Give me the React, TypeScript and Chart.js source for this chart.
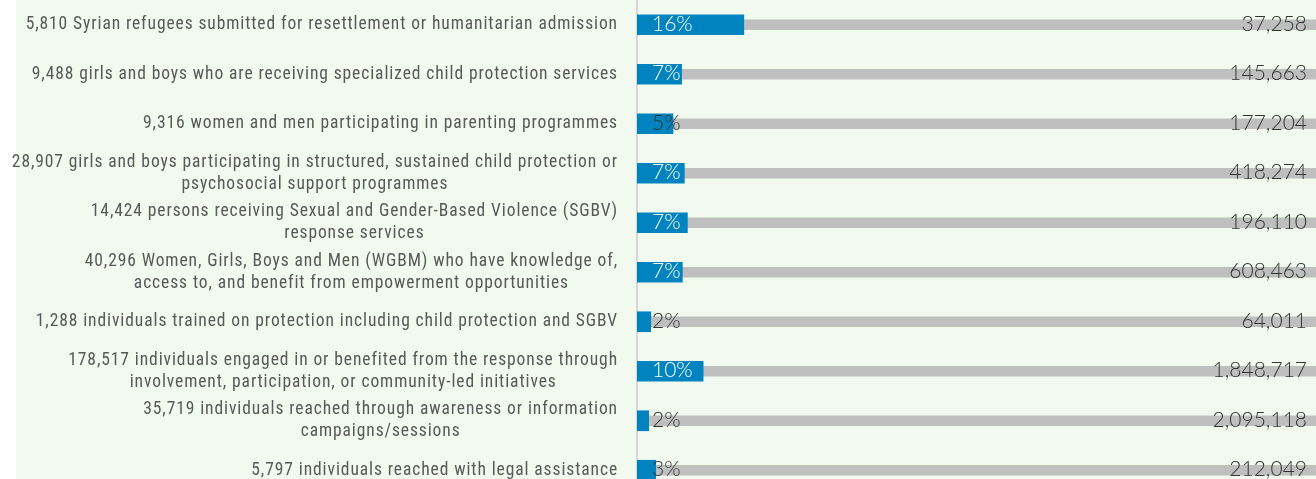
import React, { useEffect, useRef } from "react";
import { Chart, registerables } from "chart.js";

Chart.register(...registerables);

const categories: string[][] = [
  ["5,810 Syrian refugees submitted for resettlement or humanitarian admission"],
  ["9,488 girls and boys who are receiving specialized child protection services"],
  ["9,316 women and men participating in parenting programmes"],
  ["28,907 girls and boys participating in structured, sustained child protection or", "psychosocial support programmes"],
  ["14,424 persons receiving Sexual and Gender-Based Violence (SGBV)", "response services"],
  ["40,296 Women, Girls, Boys and Men (WGBM) who have knowledge of,", "access to, and benefit from empowerment opportunities"],
  ["1,288 individuals trained on protection including child protection and SGBV"],
  ["178,517 individuals engaged in or benefited from the response through", "involvement, participation, or community-led initiatives"],
  ["35,719 individuals reached through awareness or information", "campaigns/sessions"],
  ["5,797 individuals reached with legal assistance"],
];

const achieved: number[] = [5810, 9488, 9316, 28907, 14424, 40296, 1288, 178517, 35719, 5797];
const targets: number[] = [37258, 145663, 177204, 418274, 196110, 608463, 64011, 1848717, 2095118, 212049];
const targetShare: number[] = [100, 100, 100, 100, 100, 100, 100, 100, 100, 100];

const percentAchieved = achieved.map((a, i) => (a / targets[i]) * 100);

const LABEL_FONT = '400 17.5px "Roboto Condensed", "Liberation Sans Narrow", "Arial Narrow", sans-serif';
const NUM_FONT = '300 21px Lato, "Open Sans", sans-serif';

const labelPlugin = {
  id: "customLabels",
  afterDatasetsDraw(chart: any) {
    const ctx = chart.ctx as CanvasRenderingContext2D;
    const yScale = chart.scales.y;
    const area = chart.chartArea;
    const blueMeta = chart.getDatasetMeta(0);
    ctx.save();
    categories.forEach((lines, i) => {
      const cy = yScale.getPixelForValue(i);
      ctx.font = LABEL_FONT;
      (ctx as any).letterSpacing = "0.9px";
      ctx.fillStyle = "#595959";
      ctx.textBaseline = "middle";
      ctx.textAlign = "center";
      const w = Math.max(...lines.map((l) => ctx.measureText(l).width));
      const cx = area.left - 19 - w / 2;
      const lh = 22;
      lines.forEach((l, j) => {
        ctx.fillText(l, cx, cy + (j - (lines.length - 1) / 2) * lh);
      });
      (ctx as any).letterSpacing = "0px";
      ctx.font = NUM_FONT;
      const pct = Math.round(percentAchieved[i]) + "%";
      const px = area.left + 15;
      const bar = blueMeta.data[i];
      const tw = ctx.measureText(pct).width;
      ctx.textAlign = "left";
      ctx.fillStyle = px + tw <= bar.x ? "#ffffff" : "#333333";
      ctx.fillText(pct, px, cy - 1);
      ctx.textAlign = "right";
      ctx.fillStyle = "#333333";
      ctx.fillText(targets[i].toLocaleString("en-US"), 1307, cy - 1);
    });
    ctx.restore();
  },
};

export default function App() {
  const ref = useRef<HTMLCanvasElement | null>(null);
  useEffect(() => {
    document.body.style.margin = "0";
    const canvas = ref.current!;
    const chart = new Chart(canvas, {
      type: "bar",
      data: {
        labels: categories.map((c) => c.join(" ")),
        datasets: [
          {
            label: "Achieved",
            data: percentAchieved,
            backgroundColor: "#0083bf",
            barThickness: 20,
            grouped: false,
          } as any,
          {
            label: "Target",
            data: targetShare,
            backgroundColor: "#bfbfbf",
            barThickness: 10,
            grouped: false,
          } as any,
        ],
      },
      options: {
        indexAxis: "y",
        responsive: false,
        animation: false,
        layout: { padding: 0 },
        plugins: {
          legend: { display: false },
          tooltip: { enabled: false },
        },
        scales: {
          x: { display: false, min: 0, max: 100 },
          y: {
            ticks: { display: false },
            grid: { display: false },
            border: { display: true, color: "#d6d6d6", width: 2 },
            afterFit: (scale: any) => {
              scale.width = 637;
            },
          },
        },
      },
      plugins: [labelPlugin],
    });
    return () => chart.destroy();
  }, []);
  return (
    <div style={{ position: "relative", width: 1316, height: 479, overflow: "hidden", background: "#ffffff" }}>
      <div style={{ position: "absolute", left: 16, top: 0, right: 0, bottom: 0, background: "rgb(242,250,240)" }} />
      <canvas
        ref={ref}
        width={1322}
        height={495}
        style={{ position: "absolute", left: 0, top: 0, width: 1322, height: 495 }}
      />
    </div>
  );
}
